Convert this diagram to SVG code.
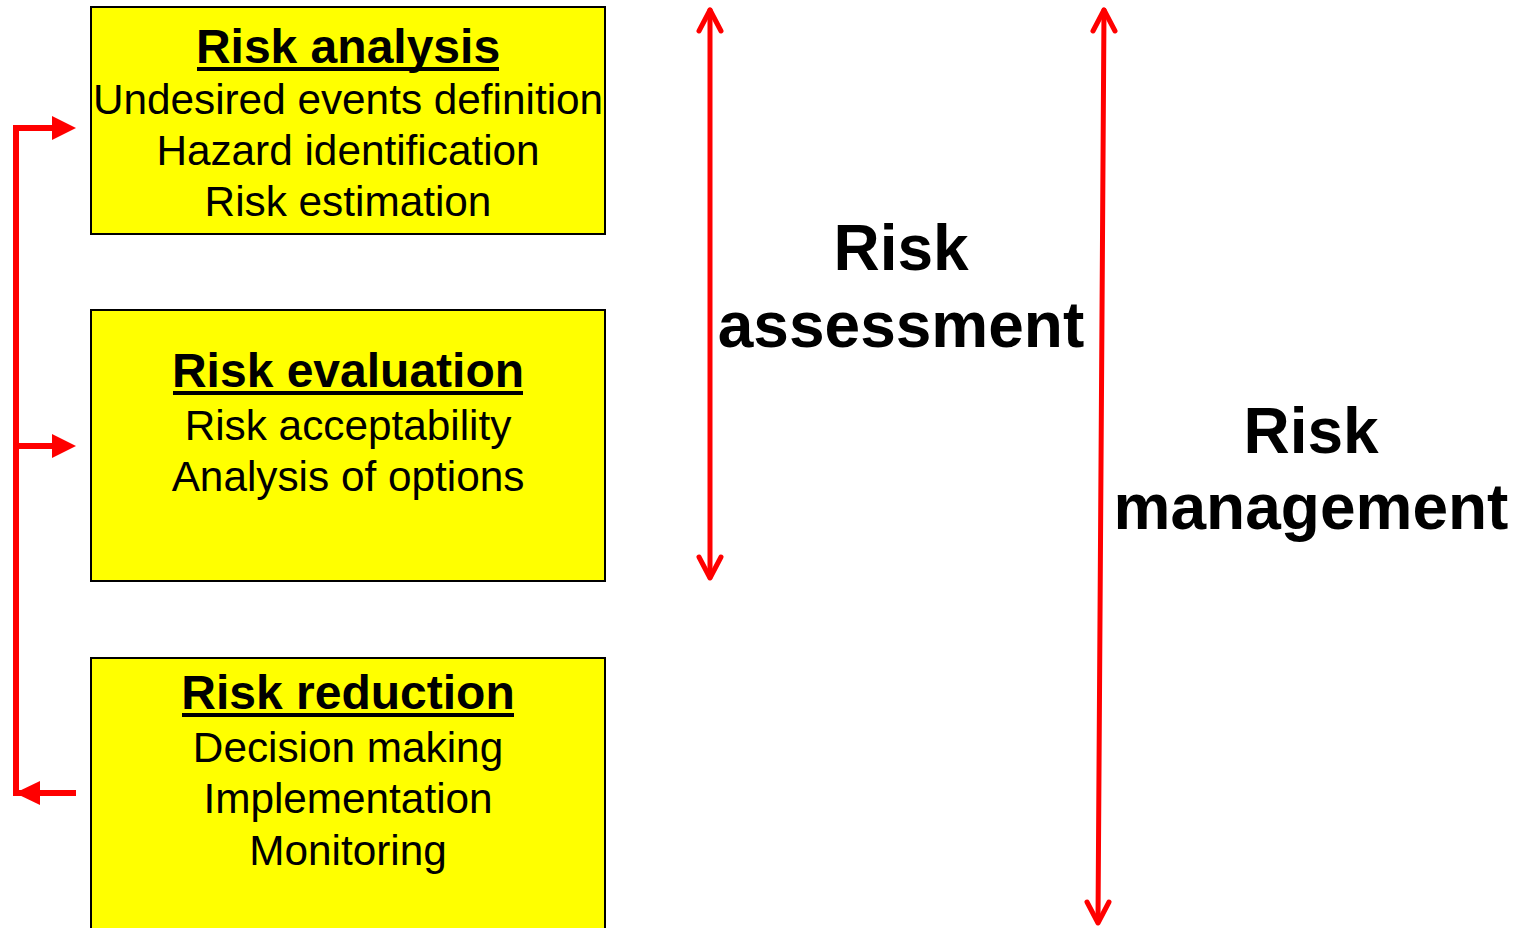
<svg xmlns="http://www.w3.org/2000/svg" width="1526" height="928" viewBox="0 0 1526 928">
  <style>
    .box { fill: #ffff00; stroke: #000000; stroke-width: 2; }
    .title { font-family: "Liberation Sans", Arial, sans-serif; font-weight: bold; font-size: 48px; text-anchor: middle; fill: #000; }
    .uline { stroke: #000; stroke-width: 4; }
    .item { font-family: "Liberation Sans", Arial, sans-serif; font-size: 42.3px; text-anchor: middle; fill: #000; }
    .big { font-family: "Liberation Sans", Arial, sans-serif; font-weight: bold; font-size: 64px; text-anchor: middle; fill: #000; }
    .wire { fill: none; stroke: #ff0000; stroke-width: 6; }
    .head { fill: #ff0000; }
    .span { fill: none; stroke: #ff0000; stroke-width: 5; stroke-linecap: round; stroke-linejoin: round; }
  </style>

  <g id="risk-analysis">
    <rect class="box" x="91" y="7" width="514" height="227"/>
    <text class="title" x="348" y="63">Risk analysis</text>
    <line class="uline" x1="197" y1="69" x2="499" y2="69"/>
    <text class="item" x="348" y="114">Undesired events definition</text>
    <text class="item" x="348" y="165">Hazard identification</text>
    <text class="item" x="348" y="216">Risk estimation</text>
  </g>

  <g id="risk-evaluation">
    <rect class="box" x="91" y="310" width="514" height="271"/>
    <text class="title" x="348" y="387">Risk evaluation</text>
    <line class="uline" x1="173" y1="393" x2="523" y2="393"/>
    <text class="item" x="348" y="440">Risk acceptability</text>
    <text class="item" x="348" y="491">Analysis of options</text>
  </g>

  <g id="risk-reduction">
    <rect class="box" x="91" y="658" width="514" height="280"/>
    <text class="title" x="348" y="709">Risk reduction</text>
    <line class="uline" x1="182" y1="715" x2="514" y2="715"/>
    <text class="item" x="348" y="762">Decision making</text>
    <text class="item" x="348" y="813">Implementation</text>
    <text class="item" x="348" y="865">Monitoring</text>
  </g>

  <g id="risk-assessment">
    <text class="big" x="901" y="270">Risk</text>
    <text class="big" x="901" y="347">assessment</text>
  </g>

  <g id="risk-management">
    <text class="big" x="1311" y="453">Risk</text>
    <text class="big" x="1311" y="529">management</text>
  </g>

  <g id="connectors">
    <!-- feedback loop from reduction back to analysis and evaluation -->
    <path class="wire" d="M76,793 H16 V128 H55"/>
    <path class="wire" d="M16,446 H55"/>
    <polygon class="head" points="76,128 52,116 52,140"/>
    <polygon class="head" points="76,446 52,434 52,458"/>
    <polygon class="head" points="15,793 40,781 40,805"/>

    <!-- risk assessment span -->
    <line class="span" x1="710" y1="10" x2="710" y2="577"/>
    <polyline class="span" points="699,31 710,10 721,31"/>
    <polyline class="span" points="699,557 710,578 721,557"/>

    <!-- risk management span -->
    <line class="span" x1="1104" y1="10" x2="1098" y2="922"/>
    <polyline class="span" points="1093,31 1104,10 1115,31"/>
    <polyline class="span" points="1087,902 1098,923 1109,902"/>
  </g>
</svg>
